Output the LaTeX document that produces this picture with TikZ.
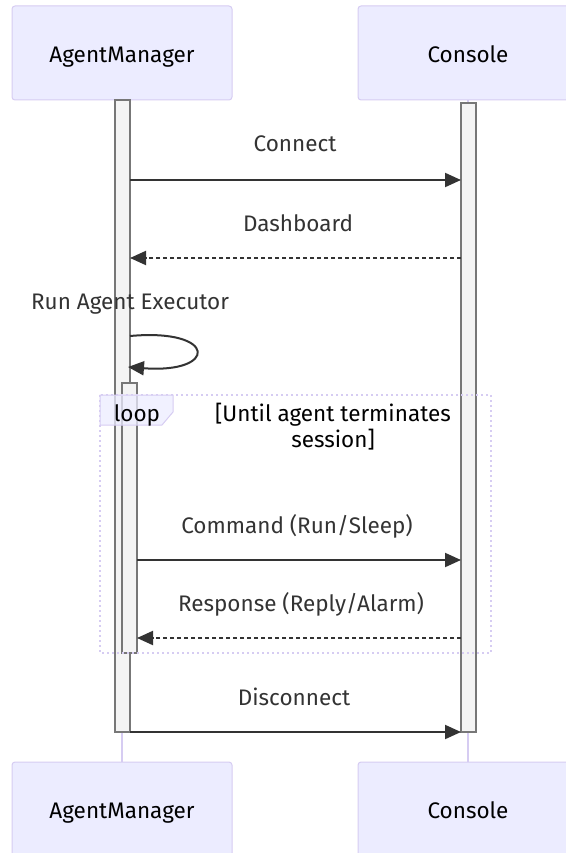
\documentclass[tikz,border=0pt]{standalone}
\usepackage{fontspec}
\setmainfont{Fira Sans}
\usetikzlibrary{arrows.meta}
\definecolor{actfill}{HTML}{ECECFF}
\definecolor{actline}{HTML}{D6CCF2}
\definecolor{barfill}{HTML}{F4F4F4}
\definecolor{barline}{HTML}{777777}
\definecolor{msgcol}{HTML}{333333}
\newcommand{\seqfont}{\fontsize{22.5}{26}\selectfont}
\begin{document}
\begin{tikzpicture}[x=1pt,y=-1pt,>={Triangle[length=16pt,width=14pt]},
 actor/.style={draw=actline,fill=actfill,line width=1pt,rounded corners=3pt,
   minimum width=220pt,minimum height=94pt,text height=22pt,text depth=3pt,
   font=\seqfont,text=black},
 msg/.style={font=\seqfont,text=msgcol,anchor=base},
 bar/.style={draw=barline,fill=barfill,line width=1.4pt},
 call/.style={->,draw=msgcol,line width=2pt},
 reply/.style={call,dash pattern=on 4pt off 3pt}]
 \useasboundingbox (0,0) rectangle (565,853);
 % actors
 \node[actor] (amtop) at (122,53) {AgentManager};
 \node[actor] (cotop) at (468,53) {Console};
 \node[actor] (ambot) at (122,809) {AgentManager};
 \node[actor] (cobot) at (468,809) {Console};
 \draw[actline,line width=1.5pt] (amtop)--(ambot);
 \draw[actline,line width=1.5pt] (cotop)--(cobot);
 % activations
 \draw[bar] (115,100) rectangle (130,732);
 \draw[bar] (461,103) rectangle (476,732);
 \draw[bar] (122,383) rectangle (137,653);
 % loop frame
 \draw[actline,line width=2pt,dash pattern=on 2pt off 3pt] (100,395) rectangle (491,653);
 \draw[actline,fill=actfill,fill opacity=.75,line width=1pt]
   (100,395)--(173,395)--(173,412)--(162,425)--(100,425)--cycle;
 \node[font=\seqfont,anchor=base] (looplbl) at (137,421) {loop};
 \node[font=\seqfont,anchor=base] (cond) at (333,421) {[Until agent terminates};
 \node[font=\seqfont,anchor=base] (cond2) at (333,447) {session]};
 % message ends
 \foreach \n/\x/\y in {c1a/130/180,c1b/461/180,c2a/130/258,c2b/461/258,
   s1/130/336,s2/128/367,c3a/137/560,c3b/461/560,c4a/137/638,c4b/461/638,
   c5a/130/732,c5b/461/732}
 {
   \coordinate (\n) at (\x,\y);
 }
 % messages
 \node[msg] (lconnect) at (295,152) {Connect};
 \draw[call] (c1a)--(c1b);
 \node[msg] (ldash) at (298,231) {Dashboard};
 \draw[reply] (c2b)--(c2a);
 \node[msg] (lrun) at (130,309) {Run Agent Executor};
 \draw[call] (s1) .. controls (218,328) and (218,374) .. (s2);
 \node[msg] (lcmd) at (297,533) {Command (Run/Sleep)};
 \draw[call] (c3a)--(c3b);
 \node[msg] (lresp) at (301,611) {Response (Reply/Alarm)};
 \draw[reply] (c4b)--(c4a);
 \node[msg] (ldisc) at (294,705) {Disconnect};
 \draw[call] (c5a)--(c5b);
\end{tikzpicture}
\end{document}
